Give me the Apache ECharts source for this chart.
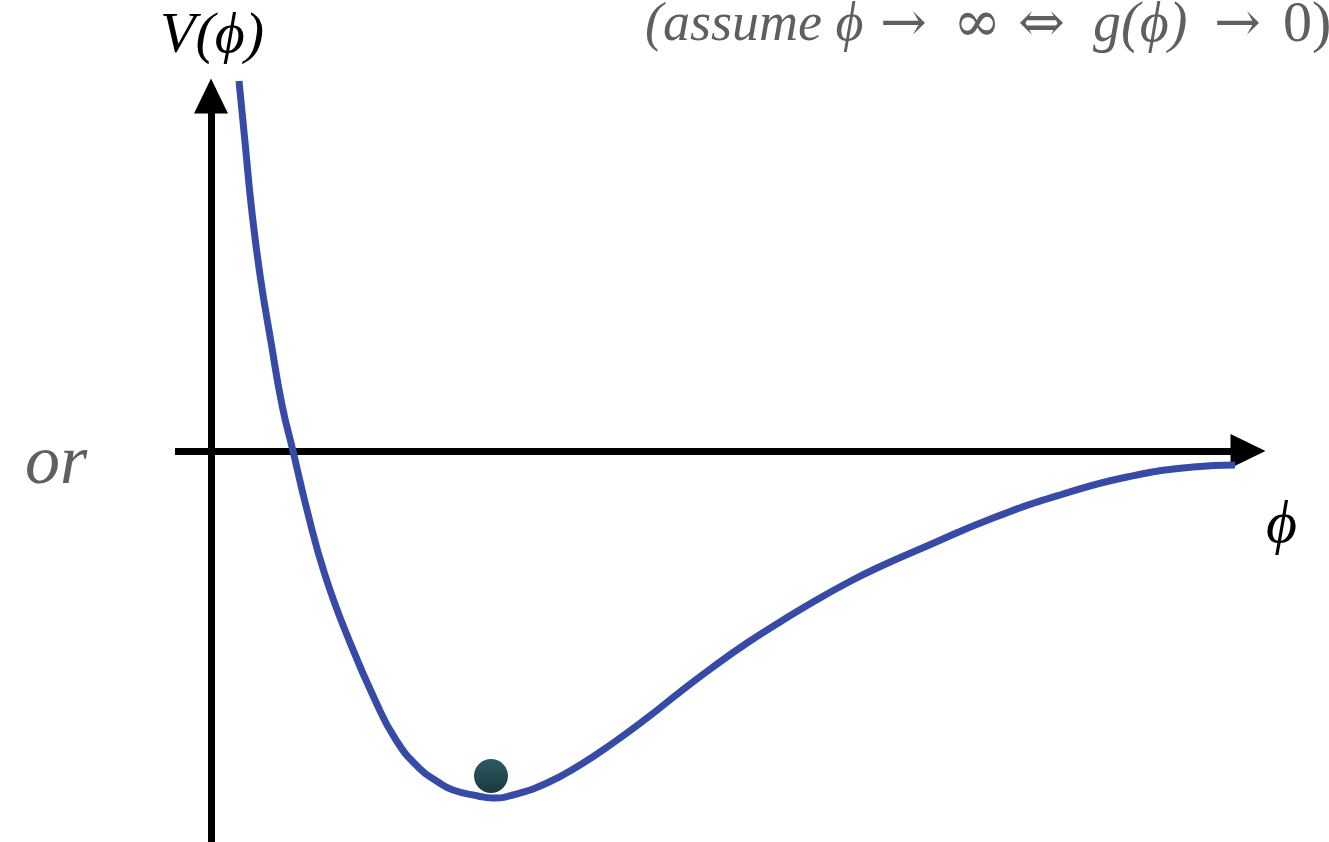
<!DOCTYPE html>
<html>
<head>
<meta charset="utf-8">
<script src="https://cdn.jsdelivr.net/npm/echarts@6/dist/echarts.min.js"></script>
<style>
  html, body { margin: 0; padding: 0; background: #ffffff; }
  #chart { width: 1329px; height: 842px; }
</style>
</head>
<body>
<div id="chart"></div>
<script>
// Potential V(phi): field values and potential values along the curve
const phiValues = [0.28, 0.34, 0.405, 0.49, 0.60, 0.71, 0.82, 0.96, 1.14, 1.38, 1.64, 1.85, 2.08, 2.27, 2.42, 2.67, 2.81,
  3.02, 3.36, 3.69, 4.02, 4.36, 4.69, 5.02, 5.36, 5.69, 6.02, 6.36, 6.66, 7.16, 7.82, 8.49, 9.16, 9.82, 10.24];
const potentialValues = [3.70, 3.09, 2.43, 1.76, 1.09, 0.46, 0, -0.59, -1.24, -1.89, -2.49, -2.89, -3.17, -3.31, -3.39, -3.45, -3.47,
  -3.44, -3.32, -3.14, -2.92, -2.67, -2.41, -2.16, -1.92, -1.71, -1.51, -1.32, -1.17, -0.95, -0.67, -0.44, -0.26, -0.16, -0.14];

// The ball resting near the minimum
const ballPhi = [2.80];
const ballV = [-3.25];

// Axis extents
const phiRange = [-0.36, 10.37];
const vRange = [-3.91, 3.55];

const curve = phiValues.map((p, i) => [p, potentialValues[i]]);
const ball = ballPhi.map((p, i) => [p, ballV[i]]);

const serif = '"Liberation Serif", "DejaVu Serif", serif';
const symbolFont = '"DejaVu Serif", "Liberation Serif", serif';
const noteGrey = '#5f5f5f';

// Note in the top-right corner, set piece by piece
const noteParts = [
  { text: '(assume ϕ', x: 645, font: 'italic 54px ' + serif },
  { text: '→', x: 880, font: '56px ' + symbolFont },
  { text: '∞', x: 953, font: '58px ' + symbolFont },
  { text: '⇔', x: 1018, font: '56px ' + symbolFont },
  { text: 'g(ϕ)', x: 1093, font: 'italic 56px ' + serif },
  { text: '→', x: 1214, font: '56px ' + symbolFont },
  { text: '0)', x: 1283, font: '58px ' + serif }
];

const noteGraphics = noteParts.map(p => ({
  type: 'text',
  x: p.x,
  y: 26,
  style: {
    text: p.text,
    font: p.font,
    fill: noteGrey,
    align: 'left',
    verticalAlign: 'middle'
  }
}));

const chart = echarts.init(document.getElementById('chart'));
chart.setOption({
  animation: false,
  backgroundColor: '#ffffff',
  grid: { left: 175, right: 81, top: 96, bottom: 0, containLabel: false },
  xAxis: {
    type: 'value',
    min: phiRange[0],
    max: phiRange[1],
    axisLine: {
      show: true,
      onZero: true,
      symbol: ['none', 'triangle'],
      symbolSize: [34, 35],
      lineStyle: { color: '#000000', width: 7, cap: 'butt' }
    },
    axisTick: { show: false },
    axisLabel: { show: false },
    splitLine: { show: false }
  },
  yAxis: {
    type: 'value',
    min: vRange[0],
    max: vRange[1],
    axisLine: {
      show: true,
      onZero: true,
      symbol: ['none', 'triangle'],
      symbolSize: [34, 35],
      lineStyle: { color: '#000000', width: 7, cap: 'butt' }
    },
    axisTick: { show: false },
    axisLabel: { show: false },
    splitLine: { show: false }
  },
  series: [
    {
      type: 'line',
      data: curve,
      smooth: 0.5,
      showSymbol: false,
      clip: false,
      lineStyle: { color: '#374ba6', width: 7, cap: 'butt' },
      z: 3
    },
    {
      type: 'scatter',
      data: ball,
      symbol: 'circle',
      symbolSize: 34,
      clip: false,
      itemStyle: {
        opacity: 1,
        color: new echarts.graphic.LinearGradient(0, 0, 0, 1, [
          { offset: 0, color: '#2e5a63' },
          { offset: 1, color: '#1a393d' }
        ])
      },
      z: 4
    }
  ],
  graphic: [
    {
      type: 'text',
      left: 160, top: 8,
      style: { text: 'V(ϕ)', font: 'italic 58px ' + serif, fill: '#000000' }
    },
    ...noteGraphics,
    {
      type: 'text',
      left: 25, top: 430,
      style: { text: 'or', font: 'italic 70px ' + serif, fill: noteGrey }
    },
    {
      type: 'text',
      left: 1266, top: 496,
      style: { text: 'ϕ', font: 'italic 60px ' + serif, fill: '#000000' }
    }
  ]
});
</script>
</body>
</html>
